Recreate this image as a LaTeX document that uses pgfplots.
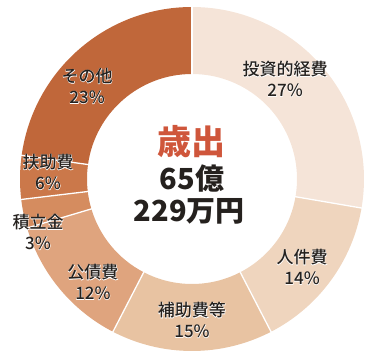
\documentclass[border=0pt]{standalone}
\usepackage{fontspec}
\setmainfont{Noto Sans CJK JP}
\newfontfamily\medfont{Noto Sans CJK JP Medium}
\newfontfamily\halofont[FakeBold=4]{Noto Sans CJK JP Medium}
\usepackage{pgfplots}
\pgfplotsset{compat=1.18}
\usepackage{pgfplotstable}
\usetikzlibrary{calc}

\definecolor{c0}{HTML}{F5E4D8}
\definecolor{c1}{HTML}{EFD5BE}
\definecolor{c2}{HTML}{E8C3A2}
\definecolor{c3}{HTML}{DFA47E}
\definecolor{c4}{HTML}{D58C5F}
\definecolor{c5}{HTML}{CB784A}
\definecolor{c6}{HTML}{C0673A}
\definecolor{txt}{HTML}{25211E}
\definecolor{ttl}{HTML}{CF563B}

% share of each segment (percent), clockwise from the top
\pgfplotstableread{
name pct
投資的経費 27.7
人件費 14.7
補助費等 15.2
公債費 12.8
積立金 2.7
扶助費 4.1
その他 22.8
}\donut

\tikzset{lbl/.style={align=center, inner sep=0pt}}
\newcommand\halolabel[4]{%
  \node[lbl,text=white,font=\halofont\fontsize{17}{21}\selectfont] at (axis cs:#1,#2) {#3\\#4\%};
  \node[lbl,text=txt,font=\medfont\fontsize{17}{21}\selectfont] at (axis cs:#1,#2) {#3\\#4\%};
}

\begin{document}
\begin{tikzpicture}%
\def\cum{0}%
\foreach \i in {0,...,6}{%
  \pgfplotstablegetelem{\i}{pct}\of\donut
  \let\v=\pgfplotsretval
  \pgfmathsetmacro\st{90-3.6*\cum}%
  \pgfmathsetmacro\en{90-3.6*(\cum+\v)}%
  \expandafter\xdef\csname st\i\endcsname{\st}%
  \expandafter\xdef\csname en\i\endcsname{\en}%
  \pgfmathsetmacro\nc{\cum+\v}%
  \xdef\cum{\nc}%
}%
\useasboundingbox (-192pt,-179pt) rectangle (178pt,179pt);
\begin{axis}[at={(0,0)}, anchor=center, scale only axis,
  width=344pt, height=344pt, xmin=-1, xmax=1, ymin=-1, ymax=1,
  hide axis, clip=false]
\pgfplotsinvokeforeach{0,...,6}{%
  \edef\tmp{\noexpand\fill[c#1] ($(axis cs:0,0)+(\csname st#1\endcsname:172pt)$)
    arc[start angle=\csname st#1\endcsname, end angle=\csname en#1\endcsname, radius=172pt]
    -- ($(axis cs:0,0)+(\csname en#1\endcsname:105pt)$)
    arc[start angle=\csname en#1\endcsname, end angle=\csname st#1\endcsname, radius=105pt] -- cycle;}%
  \tmp
}
\pgfplotsinvokeforeach{0,...,6}{%
  \edef\tmp{\noexpand\draw[white, line width=1.3pt] ($(axis cs:0,0)+(\csname st#1\endcsname:104pt)$)
    -- ($(axis cs:0,0)+(\csname st#1\endcsname:173pt)$);}%
  \tmp
}
\halolabel{0.541}{0.581}{投資的経費}{27}
\halolabel{0.640}{-0.512}{人件費}{14}
\halolabel{0}{-0.820}{補助費等}{15}
\halolabel{-0.576}{-0.599}{公債費}{12}
\halolabel{-0.895}{-0.308}{積立金}{3}
\halolabel{-0.837}{0.041}{扶助費}{6}
\halolabel{-0.610}{0.541}{その他}{23}
\node[font=\fontsize{34}{34}\selectfont\bfseries, text=ttl, inner sep=0pt] at (axis cs:0,0.218) {歳出};
\node[font=\fontsize{29}{29}\selectfont\bfseries, text=txt, inner sep=0pt] at (axis cs:0,0) {65億};
\node[font=\fontsize{29}{29}\selectfont\bfseries, text=txt, inner sep=0pt] at (axis cs:-0.015,-0.186) {229万円};
\end{axis}
\end{tikzpicture}
\end{document}
